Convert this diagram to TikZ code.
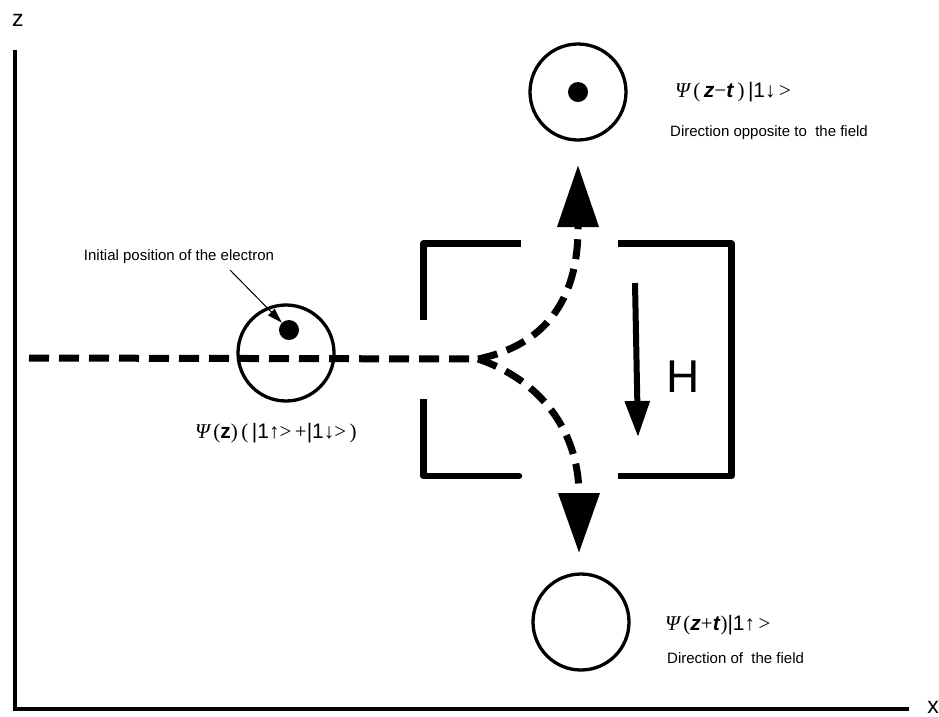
\documentclass[tikz,border=0pt]{standalone}
\usepackage{fontspec}
\setmainfont{Liberation Sans}
\newfontfamily\tms{Liberation Serif}
\usetikzlibrary{arrows.meta}
\newcommand\PsiSym{{\tms\itshape Ψ}}
\begin{document}
\begin{tikzpicture}[x=1pt,y=-1pt,
  axis/.style={line width=3.5pt},
  wall/.style={line width=6.5pt, line join=round},
  beam/.style={line width=7pt, dash pattern=on 20pt off 10pt},
  ring/.style={circle, draw, line width=3.3pt, minimum size=96pt, inner sep=0pt},
  spot/.style={circle, fill, minimum size=20pt, inner sep=0pt},
  lbl/.style={font=\fontsize{15}{17}\selectfont, inner sep=0pt},
  psi/.style={font=\fontsize{21}{23}\selectfont, inner sep=0pt},
  axlbl/.style={font=\fontsize{23}{25}\selectfont, inner sep=0pt}]
\useasboundingbox (0,0) rectangle (939,716);
% axes
\coordinate (ztop) at (15,50);
\coordinate (origin) at (15,709);
\coordinate (xend) at (909,709);
\draw[axis] (ztop) -- (origin) -- (xend);
\node[axlbl] (zl) at (18,20) {z};
\node[axlbl] (xl) at (933,707) {x};
% circles
\node[ring] (top) at (578,92) {};
\node[spot] (topdot) at (578,92) {};
\node[ring] (bot) at (581,622) {};
\node[ring] (elec) at (286,353) {};
\node[spot] (edot) at (289,330) {};
% magnet walls
\draw[wall] (521,243.5) -- (423.5,243.5) -- (423.5,320);
\draw[wall] (423.5,399) -- (423.5,476) -- (510,476);
\draw[wall, line cap=round] (505,476) -- (519,476);
\draw[wall] (618,243.5) -- (731.5,243.5) -- (731.5,476) -- (618,476);
% field arrow
\coordinate (h1) at (635,283);
\coordinate (h2) at (638,437);
\draw[line width=6pt, -{Triangle[length=36pt,width=24pt]}] (h1) -- (h2);
\node[inner sep=0pt, font=\fontsize{46}{48}\selectfont] (H) at (683,377) {H};
% beam
\coordinate (src) at (29,358);
\coordinate (split) at (478,359);
\coordinate (upend) at (578,228);
\coordinate (uptip) at (578,165);
\coordinate (dnend) at (579,493);
\coordinate (dntip) at (579,553);
\draw[beam] (src) -- (split);
\draw[beam, -{Triangle[length=62pt,width=40pt]}] (split) .. controls (545,345) and (578,300) .. (upend) -- (uptip);
\draw[beam, -{Triangle[length=60pt,width=40pt]}] (split) .. controls (540,380) and (578,430) .. (dnend) -- (dntip);
% annotation
\node[lbl] (ann) at (179,257) {Initial position of the electron};
\coordinate (annfrom) at (230,270);
\draw[line width=1pt, -{Triangle[length=15pt,width=9pt]}] (annfrom) -- (edot);
% labels
\node[psi, anchor=west] (ltop) at (675,92) {\PsiSym\,{\tms(}\,\textbf{\itshape z}{\tms −}\textbf{\itshape t}\,{\tms)}\,|1↓\,{\tms >}};
\node[lbl, anchor=west] (dtop) at (670,133) {Direction opposite to\ \ the field};
\node[psi, anchor=west] (lbot) at (665,625) {\PsiSym\,{\tms(}\textbf{\itshape z}{\tms +}\textbf{\itshape t}{\tms)}|1↑\,{\tms >}};
\node[lbl, anchor=west] (dbot) at (667,658) {Direction of\ \ the field};
\node[psi, anchor=west] (lleft) at (195,433) {\PsiSym\,{\tms(}\textbf{z}{\tms)}\,{\tms(}\,|1↑{\tms >}\,{\tms +}|1↓{\tms >}\,{\tms)}};
\end{tikzpicture}
\end{document}
